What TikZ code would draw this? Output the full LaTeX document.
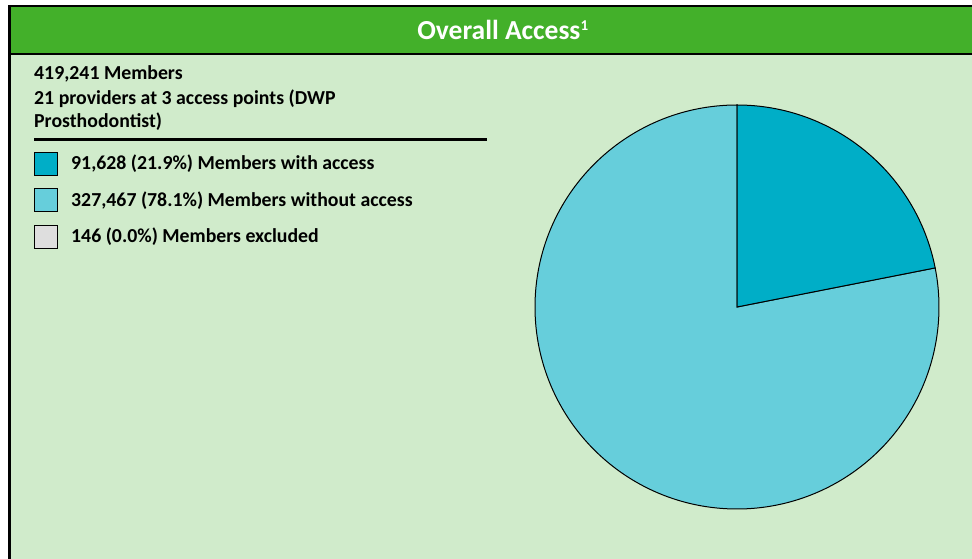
\documentclass[tikz,border=0pt]{standalone}
\usepackage{fontspec}
\setmainfont{Carlito}
\definecolor{headgreen}{RGB}{67,176,42}
\definecolor{panelgreen}{RGB}{208,235,203}
\definecolor{withacc}{RGB}{0,174,199}
\definecolor{withoutacc}{RGB}{102,206,219}
\definecolor{excl}{RGB}{222,222,222}
\tikzset{
  info/.style={anchor=base west, inner sep=0pt, font=\fontsize{19.8}{22}\selectfont\bfseries},
  swatch/.style={draw, line width=1pt, minimum size=23pt, inner sep=0pt}
}
\begin{document}
\begin{tikzpicture}[x=1pt, y=1pt]
        \useasboundingbox (0,0) rectangle (972,559);
        \clip (0,0) rectangle (972,559);
        % Panel
        \fill[panelgreen] (9.5,-10) rectangle (990,553);
        \fill[headgreen] (9.5,505) rectangle (990,553);
        \draw[line width=2.5pt] (9.5,-10) -- (9.5,553) -- (990,553);
        \draw[line width=2.5pt] (9.5,505) -- (990,505);

        % Nodes
        \node (title) [anchor=base, inner sep=0pt, text=white, font=\fontsize{27.5}{30}\selectfont\bfseries] at (503,519) {Overall Access\textsuperscript{\fontsize{15}{15}\selectfont 1}};
        \node (members) [info] at (34,479) {419,241 Members};
        \node (providers) [info] at (34,454) {21 providers at 3 access points (DWP};
        \node (dentist) [info] at (34,431) {Prosthodontist)};
        \coordinate (rulestart) at (34,419);
        \coordinate (ruleend) at (487,419);
        \node (box1) [swatch, fill=withacc] at (46,395) {};
        \node (box2) [swatch, fill=withoutacc] at (46,359) {};
        \node (box3) [swatch, fill=excl] at (46,322) {};
        \node (with) [info] at (71,389) {91,628 (21.9\%) Members with access};
        \node (without) [info] at (71,352) {327,467 (78.1\%) Members without access};
        \node (excluded) [info] at (71,316) {146 (0.0\%) Members excluded};
        \coordinate (pie) at (737,252);

        % Edges
        \draw[line width=3pt] (rulestart) -- (ruleend);
        \draw[fill=withoutacc, line width=1pt] (pie) -- ++(90:202) arc (90:371.16:202) -- cycle;
        \draw[fill=withacc, line width=1pt] (pie) -- ++(11.16:202) arc (11.16:90:202) -- cycle;
    \end{tikzpicture}
\end{document}
